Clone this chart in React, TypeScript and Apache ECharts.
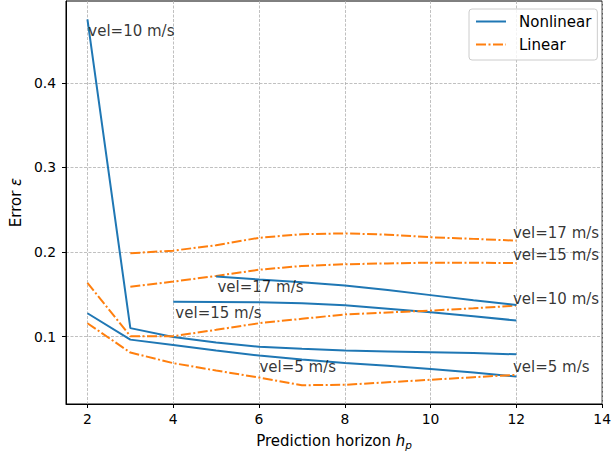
import React, { useEffect, useRef } from "react";
import * as echarts from "echarts";

// Prediction horizons
const hFull = [2, 3, 4, 5, 6, 7, 8, 9, 10, 11, 12];
const hFrom3 = [3, 4, 5, 6, 7, 8, 9, 10, 11, 12];
const hFrom4 = [4, 5, 6, 7, 8, 9, 10, 11, 12];
const hFrom5 = [5, 6, 7, 8, 9, 10, 11, 12];

// Nonlinear errors
const nonlinear10 = [0.475, 0.110, 0.0995, 0.093, 0.088, 0.0855, 0.0835, 0.0825, 0.0816, 0.0805, 0.079];
const nonlinear5 = [0.1276, 0.0964, 0.090, 0.0835, 0.0776, 0.0728, 0.0688, 0.0655, 0.0618, 0.0575, 0.0528];
const nonlinear15 = [0.1413, 0.141, 0.1405, 0.1394, 0.137, 0.133, 0.1288, 0.124, 0.119];
const nonlinear17 = [0.1709, 0.1675, 0.1643, 0.1605, 0.155, 0.149, 0.143, 0.1374];

// Linear errors
const linear17 = [0.1985, 0.2016, 0.208, 0.2168, 0.221, 0.222, 0.2205, 0.2174, 0.2155, 0.2134];
const linear15 = [0.159, 0.165, 0.1717, 0.179, 0.1835, 0.1855, 0.1865, 0.1874, 0.1872, 0.187];
const linear10 = [0.1634, 0.1005, 0.1005, 0.108, 0.1158, 0.121, 0.1262, 0.1285, 0.1307, 0.1335, 0.1366];
const linear5 = [0.1158, 0.0811, 0.0686, 0.0599, 0.0515, 0.0425, 0.043, 0.046, 0.0489, 0.052, 0.0548];

// Ticks
const xTicks = [2, 4, 6, 8, 10, 12, 14];
const yTicks = [0.1, 0.2, 0.3, 0.4];

// Annotations (text, x, y in data units: left / middle anchor)
const annTexts = ["vel=10 m/s", "vel=17 m/s", "vel=15 m/s", "vel=5 m/s", "vel=17 m/s", "vel=15 m/s", "vel=10 m/s", "vel=5 m/s"];
const annX = [2.02, 5.03, 4.05, 6.01, 11.92, 11.92, 11.92, 11.92];
const annY = [0.461, 0.1587, 0.1283, 0.0639, 0.2228, 0.1961, 0.1445, 0.0646];

const BLUE = "#1f77b4";
const ORANGE = "#ff7f0e";
const FONT = "DejaVu Sans";

const zip = (xs: number[], ys: number[]) => xs.map((x, i) => [x, ys[i]]);

export default function App() {
  const ref = useRef<HTMLDivElement>(null);
  useEffect(() => {
    if (!ref.current) return;
    const chart = echarts.init(ref.current, null, { renderer: "svg" });
    const nlStyle = { color: BLUE, width: 2, type: "solid" as const };
    const lStyle = { color: ORANGE, width: 2, type: [10, 2.5, 2, 2.5] as any };
    const mk = (name: string, xs: number[], ys: number[], ls: any, color: string) => ({
      type: "line",
      name,
      data: zip(xs, ys),
      symbol: "none",
      showSymbol: false,
      lineStyle: ls,
      itemStyle: { color },
      silent: true,
      z: 3,
    });
    chart.setOption({
      animation: false,
      grid: {
        left: 64,
        right: 10,
        top: 1,
        bottom: 53,
        show: true,
        borderColor: "#000",
        borderWidth: 1,
        backgroundColor: "transparent",
        containLabel: false,
      },
      legend: {
        data: ["Nonlinear", "Linear"],
        orient: "vertical",
        left: 469,
        top: 9,
        itemWidth: 30,
        itemHeight: 14,
        itemGap: 8,
        padding: [5, 6, 8, 6],
        borderColor: "#cccccc",
        borderWidth: 1,
        borderRadius: 3,
        backgroundColor: "rgba(255,255,255,0.8)",
        itemStyle: { opacity: 0, color: "rgba(0,0,0,0)", borderWidth: 0 },
        textStyle: { fontSize: 15, fontFamily: FONT, color: "#000", padding: [0, 0, 0, 8] },
      },
      xAxis: {
        type: "value",
        min: 1.5,
        max: 14,
        name: "Prediction horizon {i|h}{s|p}",
        nameLocation: "middle",
        nameGap: 27,
        nameTextStyle: {
          fontSize: 15,
          fontFamily: FONT,
          color: "#000",
          rich: {
            i: { fontSize: 15, fontFamily: FONT, fontStyle: "italic", color: "#000" },
            s: { fontSize: 10.5, fontFamily: FONT, fontStyle: "italic", color: "#000", padding: [8, 0, 0, 0] },
          },
        },
        axisLine: { show: true, onZero: false, lineStyle: { color: "#000", width: 1 } },
        axisTick: { show: true, length: 4, inside: false, customValues: xTicks, lineStyle: { color: "#000", width: 1 } },
        axisLabel: { customValues: xTicks, fontSize: 13.9, fontFamily: FONT, color: "#000", margin: 8 },
        splitLine: { show: true, lineStyle: { color: "#b0b0b0", width: 0.8, type: [3, 1.5] } },
      },
      yAxis: {
        type: "value",
        min: 0.0203,
        max: 0.4967,
        name: "Error {i|ε}",
        nameLocation: "middle",
        nameGap: 42,
        nameTextStyle: {
          fontSize: 15,
          fontFamily: FONT,
          color: "#000",
          rich: { i: { fontSize: 15, fontFamily: FONT, fontStyle: "italic", color: "#000" } },
        },
        axisLine: { show: true, onZero: false, lineStyle: { color: "#000", width: 1 } },
        axisTick: { show: true, length: 4, inside: false, customValues: yTicks, lineStyle: { color: "#000", width: 1 } },
        axisLabel: {
          customValues: yTicks,
          fontSize: 13.9,
          fontFamily: FONT,
          color: "#000",
          margin: 10,
          formatter: (v: number) => v.toFixed(1),
        },
        splitLine: { show: true, lineStyle: { color: "#b0b0b0", width: 0.8, type: [3, 1.5] } },
      },
      series: [
        mk("Nonlinear", hFull, nonlinear10, nlStyle, BLUE),
        mk("Linear", hFrom3, linear17, lStyle, ORANGE),
        mk("Nonlinear", hFull, nonlinear5, nlStyle, BLUE),
        mk("Linear", hFrom3, linear15, lStyle, ORANGE),
        mk("Nonlinear", hFrom4, nonlinear15, nlStyle, BLUE),
        mk("Linear", hFull, linear10, lStyle, ORANGE),
        mk("Nonlinear", hFrom5, nonlinear17, nlStyle, BLUE),
        mk("Linear", hFull, linear5, lStyle, ORANGE),
        {
          type: "scatter",
          name: "annotations",
          data: annTexts.map((t, i) => [annX[i], annY[i], t]),
          symbolSize: 0,
          silent: true,
          clip: false,
          z: 4,
          label: {
            show: true,
            position: "right",
            distance: 0,
            formatter: (p: any) => p.value[2],
            fontSize: 15,
            fontFamily: FONT,
            color: "#000",
            align: "left",
            verticalAlign: "middle",
          },
        },
      ],
    });
    return () => chart.dispose();
  }, []);
  return (
    <div
      ref={ref}
      style={{ position: "fixed", left: 0, top: 0, width: 614, height: 457, background: "#fff" }}
    />
  );
}
